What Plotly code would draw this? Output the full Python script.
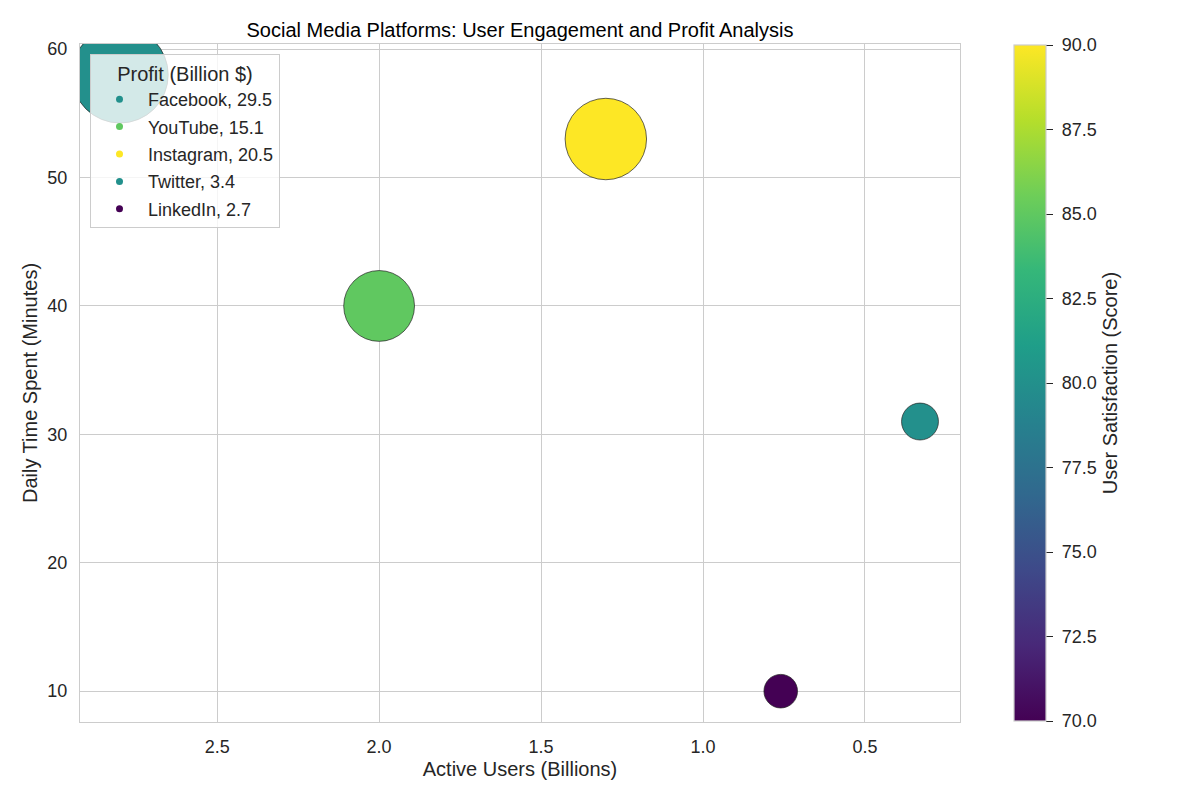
import numpy as np
import plotly.graph_objects as go
from plotly.colors import sample_colorscale

platforms = ["Facebook", "YouTube", "Instagram", "Twitter", "LinkedIn"]
active_users = [2.80, 2.00, 1.30, 0.33, 0.76]
daily_minutes = [58, 40, 53, 31, 10]
profit = [29.5, 15.1, 20.5, 3.4, 2.7]
satisfaction = [80, 85, 90, 80, 70]

CMIN, CMAX = 70, 90
FONT = "Arial, Liberation Sans, sans-serif"
TXT = "#262626"
TICK = 18
LABEL = 20

# bubble diameters (px) derived from profit
sizes = [16.6 * np.sqrt(p) + 6.3 for p in profit]
colors = sample_colorscale("Viridis", [(s - CMIN) / (CMAX - CMIN) for s in satisfaction])

cbar_ticks = [70, 72.5, 75, 77.5, 80, 82.5, 85, 87.5, 90]

fig = go.Figure()
fig.add_trace(go.Scatter(
    x=active_users, y=daily_minutes, mode="markers",
    showlegend=False, cliponaxis=True,
    marker=dict(
        size=sizes, color=satisfaction, colorscale="Viridis", cmin=CMIN, cmax=CMAX,
        opacity=1, line=dict(color="#222222", width=0.7),
        showscale=True,
        colorbar=dict(
            x=(1014 - 80) / 880, xanchor="left", xref="paper", xpad=0,
            y=0.5, yanchor="middle", ypad=0,
            len=676 / 678, lenmode="fraction", thickness=32,
            outlinecolor="#cccccc", outlinewidth=1.2,
            tickvals=cbar_ticks,
            ticktext=["\u00a0" + f"{v:.1f}" for v in cbar_ticks],
            ticks="outside", ticklen=7, tickwidth=1, tickcolor=TXT,
            tickfont=dict(family=FONT, size=TICK, color=TXT),
            title=dict(text="User Satisfaction (Score)", side="right",
                       font=dict(family=FONT, size=LABEL, color=TXT)),
        ),
    ),
    hovertext=platforms,
))

for i, name in enumerate(platforms):
    fig.add_trace(go.Scatter(
        x=[None], y=[None], mode="markers", name=f"{name}, {profit[i]}",
        legendgroup=name,
        marker=dict(size=7, color=colors[i]),
    ))

fig.update_layout(
    width=1200, height=800,
    margin=dict(l=80, r=240, t=44, b=78),
    paper_bgcolor="white", plot_bgcolor="white",
    font=dict(family=FONT, color=TXT),
    title=dict(text="Social Media Platforms: User Engagement and Profit Analysis",
               x=0.5, xref="paper", xanchor="center",
               y=1 - 30 / 800, yref="container", yanchor="middle",
               font=dict(family=FONT, size=LABEL, color="black")),
    legend=dict(
        x=(90 - 80) / 880, y=1 - (54 - 44) / 678, xanchor="left", yanchor="top",
        bgcolor="rgba(255,255,255,0.8)", bordercolor="#cccccc", borderwidth=1,
        font=dict(family=FONT, size=TICK, color=TXT),
        title=dict(text="Profit (Billion $)", side="top center",
                   font=dict(family=FONT, size=LABEL, color=TXT)),
        traceorder="grouped", tracegroupgap=1, itemsizing="trace", itemwidth=47,
    ),
    xaxis=dict(
        range=[2.9235, 0.2065], showgrid=True, gridcolor="#cccccc", gridwidth=1,
        tickvals=[2.5, 2.0, 1.5, 1.0, 0.5], ticktext=["2.5", "2.0", "1.5", "1.0", "0.5"],
        showline=True, linecolor="#cccccc", linewidth=1.3, mirror=True,
        zeroline=False, ticks="", ticklabelstandoff=8,
        tickfont=dict(family=FONT, size=TICK, color=TXT),
        title=dict(text="Active Users (Billions)", standoff=6,
                   font=dict(family=FONT, size=LABEL, color=TXT)),
    ),
    yaxis=dict(
        range=[7.6, 60.4], showgrid=True, gridcolor="#cccccc", gridwidth=1,
        tickvals=[10, 20, 30, 40, 50, 60],
        showline=True, linecolor="#cccccc", linewidth=1.3, mirror=True,
        zeroline=False, ticks="", ticklabelstandoff=8,
        tickfont=dict(family=FONT, size=TICK, color=TXT),
        title=dict(text="Daily Time Spent (Minutes)", standoff=4,
                   font=dict(family=FONT, size=LABEL, color=TXT)),
    ),
)

fig.write_html("out.html")
